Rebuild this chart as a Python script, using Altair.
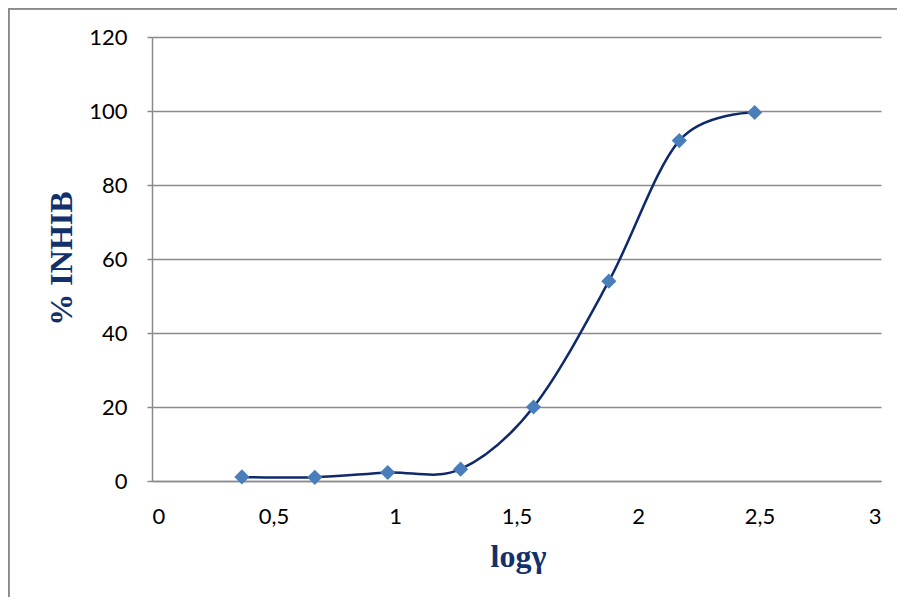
import altair as alt
import pandas as pd

# Data
log_gamma = [0.37, 0.67, 0.97, 1.27, 1.57, 1.88, 2.17, 2.48]
inhib = [1.1, 1.0, 2.3, 3.2, 20.0, 54.0, 92.0, 99.6]
x_ticks = [0, 0.5, 1, 1.5, 2, 2.5, 3]
y_ticks = [0, 20, 40, 60, 80, 100, 120]

df = pd.DataFrame({"logg": log_gamma, "inhib": inhib})

NAVY = "#0E2A6A"
TITLE = "#13306B"
GRID = "#8A8A8A"
POINT = "#4A7EBB"

x_enc = alt.X(
    "logg:Q",
    scale=alt.Scale(domain=[0, 3], nice=False, zero=False),
    axis=alt.Axis(
        title="logγ",
        values=x_ticks,
        labelExpr="replace(toString(datum.value), '.', ',')",
        grid=False,
        ticks=False,
        tickSize=0,
        labelPadding=42,
        labelBaseline="alphabetic",
        labelFont="Lato",
        labelFontSize=22,
        labelColor="#000000",
        titleFont="Liberation Serif",
        titleFontSize=32,
        titleFontWeight="bold",
        titleColor=TITLE,
        titleX=366,
        titleY=85,
        titleBaseline="alphabetic",
        titleAlign="center",
        domainColor=GRID,
        domainWidth=1.5,
    ),
)
y_enc = alt.Y(
    "inhib:Q",
    scale=alt.Scale(domain=[0, 120], nice=False),
    axis=alt.Axis(
        title="% INHIB",
        values=y_ticks,
        grid=True,
        gridColor=GRID,
        gridWidth=1.5,
        tickSize=5,
        tickColor=GRID,
        tickWidth=1.5,
        labelPadding=20,
        labelFont="Lato",
        labelFontSize=22,
        labelColor="#000000",
        titleFont="Liberation Serif",
        titleFontSize=32,
        titleFontWeight="bold",
        titleColor=TITLE,
        titleAngle=270,
        titleX=-91,
        titleY=221,
        titleBaseline="middle",
        titleAlign="center",
        domainColor=GRID,
        domainWidth=1.5,
    ),
)

# Outer chart frame (only its left and top edges are visible in the reference)
frame_left = alt.Chart(df).mark_rule(color=GRID, strokeWidth=1.5).encode(
    x=alt.value(-143.5), y=alt.value(-30), y2=alt.value(600)
)
frame_top = alt.Chart(df).mark_rule(color=GRID, strokeWidth=1.5).encode(
    x=alt.value(-145), x2=alt.value(800), y=alt.value(-28.5)
)

line = alt.Chart(df).mark_line(
    interpolate="cardinal", color=NAVY, strokeWidth=2.5
).encode(x=x_enc, y=y_enc)

points = alt.Chart(df).mark_point(
    shape="diamond", filled=True, size=230, color=POINT, opacity=1
).encode(x="logg:Q", y="inhib:Q")

chart = alt.layer(frame_left, frame_top, line, points).properties(
    width=729,
    height=444,
    autosize=alt.AutoSizeParams(type="none"),
    padding={"left": 144, "top": 29, "right": 16, "bottom": 116},
    background="white",
).configure_view(stroke=None)

chart.save("out.html", embed_options={"renderer": "svg", "actions": False})
